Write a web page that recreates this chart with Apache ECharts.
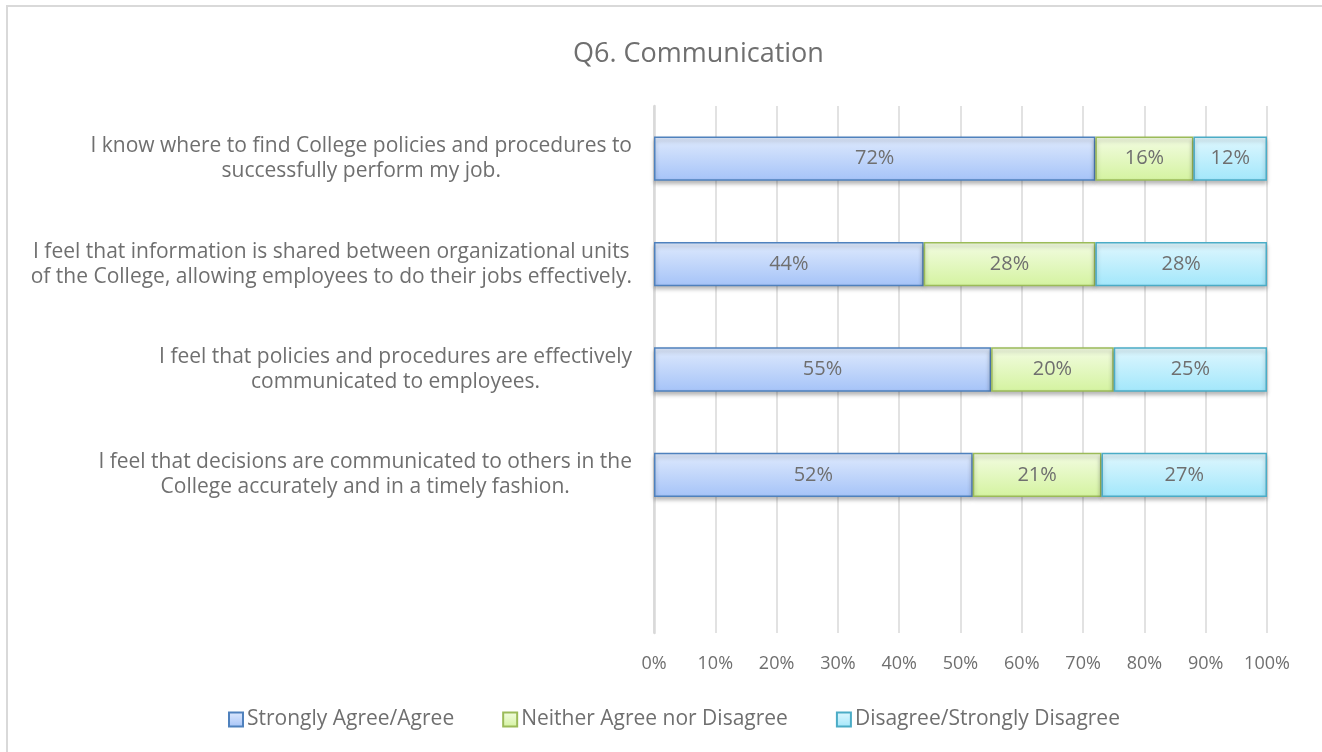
<!DOCTYPE html>
<html>
<head>
<meta charset="utf-8">
<title>Q6. Communication</title>
<script src="https://cdn.jsdelivr.net/npm/echarts@6/dist/echarts.min.js"></script>
<style>
  html, body { margin: 0; padding: 0; background: #fff; }
  #chart { width: 1322px; height: 752px; }
</style>
</head>
<body>
<div id="chart"></div>
<script>
// categories top to bottom (last one is the empty slot under the bars)
var categories = [
  'I know where to find College policies and procedures to\nsuccessfully perform my job.',
  'I feel that information is shared between organizational units\nof the College, allowing employees to do their jobs effectively.',
  'I feel that policies and procedures are effectively\ncommunicated to employees.',
  'I feel that decisions are communicated to others in the\nCollege accurately and in a timely fashion.',
  ''
];
var seriesNames = ['Strongly Agree/Agree', 'Neither Agree nor Disagree', 'Disagree/Strongly Disagree'];
var agreeValues = [72, 44, 55, 52];
var neitherValues = [16, 28, 20, 21];
var disagreeValues = [12, 28, 25, 27];
var xTicks = [0, 10, 20, 30, 40, 50, 60, 70, 80, 90, 100];

var FONT = '"Open Sans", "Noto Sans", sans-serif';
var TXT = '#6f6f6f';

var chart = echarts.init(document.getElementById('chart'));

function grad(top, bottom) {
  return new echarts.graphic.LinearGradient(0, 0, 0, 1, [
    { offset: 0, color: top },
    { offset: 1, color: bottom }
  ]);
}

var looks = [
  { fill: grad('#dfeafd', '#a5c3f8'), border: '#4f81bd' },
  { fill: grad('#f3fce2', '#d4f3a0'), border: '#9bbb59' },
  { fill: grad('#e0f7fe', '#a2e7fb'), border: '#4bacc6' }
];
var values = [agreeValues, neitherValues, disagreeValues];

var series = seriesNames.map(function (name, i) {
  return {
    name: name,
    type: 'bar',
    stack: 'total',
    barCategoryGap: '58%',
    data: values[i],
    itemStyle: {
      color: looks[i].fill,
      borderColor: looks[i].border,
      borderWidth: 1.5,
      shadowColor: 'rgba(0,0,0,0.28)',
      shadowBlur: 4,
      shadowOffsetY: 3
    },
    label: {
      show: true,
      position: 'inside',
      formatter: '{c}%',
      color: TXT,
      fontFamily: FONT,
      fontSize: 20
    }
  };
});

chart.setOption({
  animation: false,
  textStyle: { fontFamily: FONT },
  title: {
    text: 'Q6. Communication',
    left: 568,
    top: 36,
    textStyle: { color: TXT, fontFamily: FONT, fontSize: 27, fontWeight: 'normal' }
  },
  graphic: [{
    type: 'rect',
    shape: { x: 7, y: 6, width: 1400, height: 800 },
    style: { fill: 'none', stroke: '#d9d9d9', lineWidth: 2 },
    silent: true
  }],
  legend: {
    top: 704,
    left: 223,
    itemWidth: 14,
    itemHeight: 14,
    itemGap: 48,
    icon: 'rect',
    textStyle: { color: TXT, fontFamily: FONT, fontSize: 21, padding: [0, 0, 0, -1] },
    data: seriesNames
  },
  grid: { left: 654, right: 55, top: 106, bottom: 119, containLabel: false },
  xAxis: {
    type: 'value',
    min: 0,
    max: 100,
    interval: 10,
    axisLine: { show: false },
    axisTick: { show: false },
    splitLine: { lineStyle: { color: '#d9d9d9', width: 1.5 } },
    axisLabel: {
      color: TXT,
      fontSize: 18,
      margin: 22,
      formatter: function (v) { return xTicks.indexOf(v) >= 0 ? v + '%' : ''; }
    }
  },
  yAxis: {
    type: 'category',
    inverse: true,
    data: categories,
    axisLine: { show: true, lineStyle: { color: '#d9d9d9', width: 2.5 } },
    axisTick: { show: false },
    axisLabel: {
      margin: 22,
      align: 'right',
      lineHeight: 25,
      formatter: function (v) {
        if (!v) return '';
        return v.split('\n').map(function (s) { return '{c|' + s + '}'; }).join('\n');
      },
      rich: {
        c: { align: 'center', color: TXT, fontFamily: FONT, fontSize: 21, lineHeight: 25 }
      }
    }
  },
  series: series
});
</script>
</body>
</html>
